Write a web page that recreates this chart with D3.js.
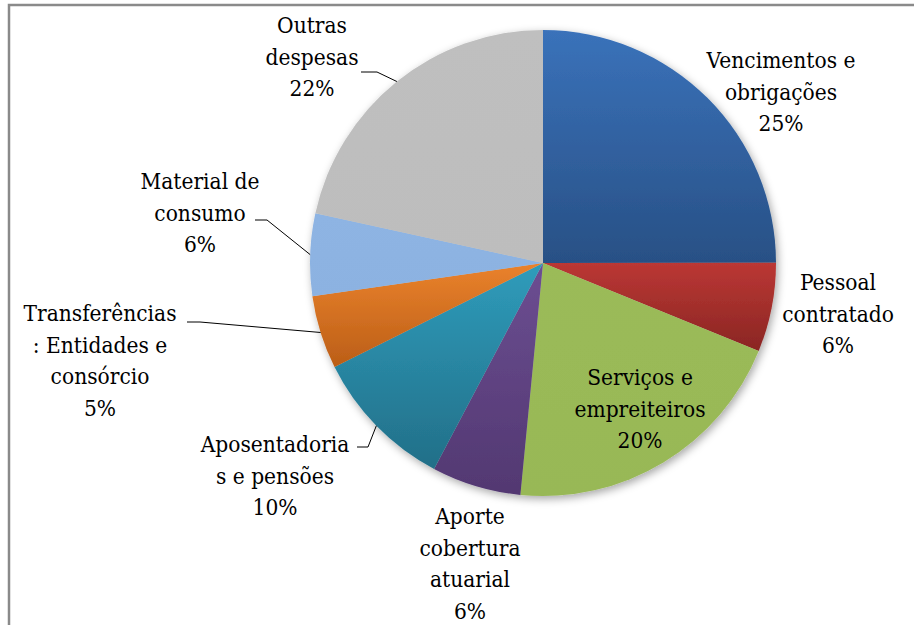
<!DOCTYPE html>
<html>
<head>
<meta charset="utf-8">
<script src="https://cdn.jsdelivr.net/npm/d3@7"></script>
<style>
  body { margin: 0; background: #fff; }
  .lbl { font-family: "DejaVu Serif", serif; }
</style>
</head>
<body>
<div id="chart"></div>
<script>
// categories (clockwise from 12 o'clock)
const categories = [
  ["Vencimentos e", "obrigações"],
  ["Pessoal", "contratado"],
  ["Serviços e", "empreiteiros"],
  ["Aporte", "cobertura", "atuarial"],
  ["Aposentadoria", "s e pensões"],
  ["Transferências", ": Entidades e", "consórcio"],
  ["Material de", "consumo"],
  ["Outras", "despesas"]
];
// share of spending (%)
const values = [25.0, 6.2, 20.4, 6.2, 9.9, 5.1, 5.7, 21.6];
// slice colours: top / bottom of the gradient
const colorsTop = ["#3a72ba", "#bb3734", "#9bbb59", "#6c4e92", "#2f9cbb", "#ea822c", "#8eb4e3", "#bfbfbf"];
const colorsBot = ["#285085", "#8a2623", "#98b856", "#523871", "#226f88", "#bb5e17", "#8cb2e1", "#bdbdbd"];

// label layout: centre of first text line, and leader-line start
const labelPos = [
  { x: 781, y: 60 },
  { x: 838, y: 282 },
  { x: 640, y: 377 },
  { x: 470, y: 516 },
  { x: 275, y: 444, lead: [[357, 447], [368, 447]] },
  { x: 100, y: 313, lead: [[187, 322], [200, 322]] },
  { x: 200, y: 181, lead: [[255, 220], [267, 220]] },
  { x: 312, y: 25,  lead: [[361, 72], [377, 72]] }
];

const width = 914, height = 625;
const cx = 543, cy = 263, r = 233;
const lineH = 31.5;
const squeeze = 0.88; // serif font here is wider than the original Times

const svg = d3.select("#chart").append("svg")
  .attr("width", width)
  .attr("height", height);

const defs = svg.append("defs");
const shadow = defs.append("filter").attr("id", "shadow")
  .attr("x", "-10%").attr("y", "-10%").attr("width", "120%").attr("height", "120%");
shadow.append("feDropShadow")
  .attr("dx", 2).attr("dy", 3).attr("stdDeviation", 4)
  .attr("flood-color", "#000").attr("flood-opacity", 0.35);

values.forEach((v, i) => {
  const g = defs.append("linearGradient").attr("id", "grad" + i)
    .attr("x1", 0).attr("y1", 0).attr("x2", 0).attr("y2", 1);
  g.append("stop").attr("offset", "0%").attr("stop-color", colorsTop[i]);
  g.append("stop").attr("offset", "100%").attr("stop-color", colorsBot[i]);
});

// frame (only top and left edges are in view)
svg.append("path")
  .attr("d", `M9,${height} L9,5 L${width},5`)
  .attr("fill", "none")
  .attr("stroke", "#8a8a8a")
  .attr("stroke-width", 2.5);

const pie = d3.pie().sort(null).value(d => d);
const arcs = pie(values);
const total = d3.sum(values);
const arc = d3.arc().innerRadius(0).outerRadius(r);

const pieG = svg.append("g")
  .attr("transform", `translate(${cx},${cy})`)
  .attr("filter", "url(#shadow)");

pieG.selectAll("path")
  .data(arcs)
  .join("path")
    .attr("d", arc)
    .attr("fill", (d, i) => `url(#grad${i})`);

// leader lines
const mid = d => (d.startAngle + d.endAngle) / 2;
svg.selectAll("path.lead")
  .data(arcs.filter((d, i) => labelPos[i].lead))
  .join("path")
    .attr("class", "lead")
    .attr("fill", "none")
    .attr("stroke", "#000")
    .attr("stroke-width", 1)
    .attr("d", d => {
      const p = labelPos[d.index].lead;
      const a = mid(d);
      const end = [cx + r * Math.sin(a), cy - r * Math.cos(a)];
      return d3.line()([...p, end]);
    });

// labels
const labels = svg.selectAll("g.lblg")
  .data(arcs)
  .join("g")
    .attr("class", "lblg")
    .attr("transform", (d, i) => `translate(${labelPos[i].x},${labelPos[i].y}) scale(${squeeze},1)`)
  .append("text")
    .attr("class", "lbl")
    .attr("text-anchor", "middle")
    .attr("font-size", "23px")
    .attr("fill", "#000");

labels.each(function(d, i) {
  const t = d3.select(this);
  const lines = categories[i].concat(Math.round(d.value / total * 100) + "%");
  lines.forEach((s, k) => {
    t.append("tspan")
      .attr("x", 0)
      .attr("y", k * lineH)
      .attr("dy", "0.35em")
      .text(s);
  });
});
</script>
</body>
</html>
